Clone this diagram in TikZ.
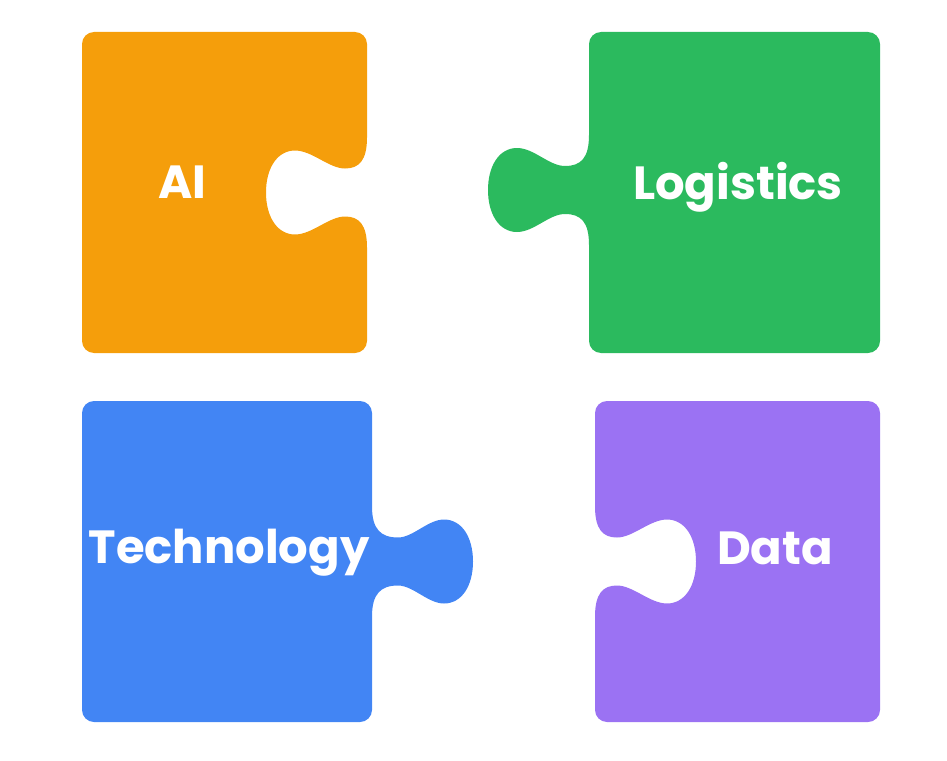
\documentclass[tikz,border=0pt]{standalone}
\usepackage{fontspec}
\setmainfont{Poppins}
\definecolor{cOrange}{HTML}{F59E0B}
\definecolor{cGreen}{HTML}{2BBA5E}
\definecolor{cBlue}{HTML}{4285F4}
\definecolor{cPurple}{HTML}{9B72F3}
\tikzset{
  lbl/.style={text=white, font=\fontsize{46.5}{50}\selectfont\bfseries, inner sep=0pt, anchor=base}
}
\begin{document}
\begin{tikzpicture}[x=1pt,y=-1pt]
\useasboundingbox (0,0) rectangle (947,760);
% Orange piece (AI) with notch on right
\fill[cOrange] (94,32) -- (355,32) .. controls (361.6,32) and (367,37.4) .. (367,44)
  -- (367,137.5) .. controls (367,160.5) and (359,168.5) .. (345,168.5)
  .. controls (329,168.5) and (312,150.5) .. (295,150.5)
  .. controls (277,150.5) and (266,168.5) .. (266,192.5)
  .. controls (266,216.5) and (277,234.5) .. (295,234.5)
  .. controls (312,234.5) and (329,216.5) .. (345,216.5)
  .. controls (359,216.5) and (367,224.5) .. (367,247.5)
  -- (367,341) .. controls (367,347.6) and (361.6,353) .. (355,353)
  -- (94,353) .. controls (87.4,353) and (82,347.6) .. (82,341)
  -- (82,44) .. controls (82,37.4) and (87.4,32) .. (94,32) -- cycle;
% Green piece (Logistics) with tab on left
\fill[cGreen] (601,32) -- (868,32) .. controls (874.6,32) and (880,37.4) .. (880,44)
  -- (880,341) .. controls (880,347.6) and (874.6,353) .. (868,353)
  -- (601,353) .. controls (594.4,353) and (589,347.6) .. (589,341)
  -- (589,245) .. controls (589,222) and (581,214) .. (565,214)
  .. controls (549,214) and (534,232) .. (517,232)
  .. controls (499,232) and (488,214) .. (488,190)
  .. controls (488,166) and (499,148) .. (517,148)
  .. controls (534,148) and (549,166) .. (565,166)
  .. controls (581,166) and (589,158) .. (589,135)
  -- (589,44) .. controls (589,37.4) and (594.4,32) .. (601,32) -- cycle;
% Blue piece (Technology) with tab on right
\fill[cBlue] (94,401) -- (360,401) .. controls (366.6,401) and (372,406.4) .. (372,413)
  -- (372,506.5) .. controls (372,529.5) and (381,537.5) .. (398,537.5)
  .. controls (413,537.5) and (428,519.5) .. (444,519.5)
  .. controls (462,519.5) and (473,537.5) .. (473,561.5)
  .. controls (473,585.5) and (462,603.5) .. (444,603.5)
  .. controls (428,603.5) and (413,585.5) .. (398,585.5)
  .. controls (381,585.5) and (372,593.5) .. (372,616.5)
  -- (372,710) .. controls (372,716.6) and (366.6,722) .. (360,722)
  -- (94,722) .. controls (87.4,722) and (82,716.6) .. (82,710)
  -- (82,413) .. controls (82,406.4) and (87.4,401) .. (94,401) -- cycle;
% Purple piece (Data) with notch on left
\fill[cPurple] (607,401) -- (868,401) .. controls (874.6,401) and (880,406.4) .. (880,413)
  -- (880,710) .. controls (880,716.6) and (874.6,722) .. (868,722)
  -- (607,722) .. controls (600.4,722) and (595,716.6) .. (595,710)
  -- (595,616.5) .. controls (595,593.5) and (603,585.5) .. (617,585.5)
  .. controls (633,585.5) and (650,603.5) .. (667,603.5)
  .. controls (685,603.5) and (696,585.5) .. (696,561.5)
  .. controls (696,537.5) and (685,519.5) .. (667,519.5)
  .. controls (650,519.5) and (633,537.5) .. (617,537.5)
  .. controls (603,537.5) and (595,529.5) .. (595,506.5)
  -- (595,413) .. controls (595,406.4) and (600.4,401) .. (607,401) -- cycle;
% Labels
\node[lbl] (ai) at (182,198) {AI};
\node[lbl] (logistics) at (738,199) {Logistics};
\node[lbl] (technology) at (229,563) {Technology};
\node[lbl] (data) at (775,564) {Data};
\end{tikzpicture}
\end{document}
